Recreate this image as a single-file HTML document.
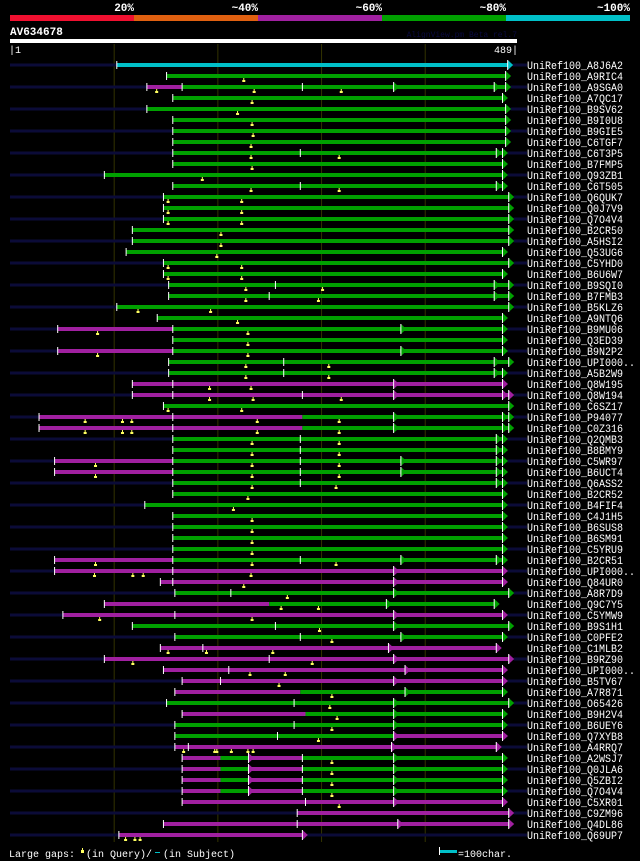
<!DOCTYPE html>
<html><head><meta charset="utf-8"><style>
html,body{margin:0;padding:0;background:#000;width:640px;height:861px;overflow:hidden}
svg{display:block}
text{font-family:"Liberation Mono","DejaVu Sans Mono",monospace}
</style></head><body>
<svg id="chart" width="640" height="861" viewBox="0 0 640 861" xmlns="http://www.w3.org/2000/svg">
<g>
<rect x="10" y="15" width="124" height="6" fill="#f01030"/>
<rect x="134" y="15" width="124" height="6" fill="#e06010"/>
<rect x="258" y="15" width="124" height="6" fill="#a020a0"/>
<rect x="382" y="15" width="124" height="6" fill="#00a000"/>
<rect x="506" y="15" width="124" height="6" fill="#00c0c8"/>
<text x="134" y="11" text-anchor="end" fill="#fff" font-size="11" font-weight="bold">20%</text>
<text x="258" y="11" text-anchor="end" fill="#fff" font-size="11" font-weight="bold">~40%</text>
<text x="382" y="11" text-anchor="end" fill="#fff" font-size="11" font-weight="bold">~60%</text>
<text x="506" y="11" text-anchor="end" fill="#fff" font-size="11" font-weight="bold">~80%</text>
<text x="630" y="11" text-anchor="end" fill="#fff" font-size="11" font-weight="bold">~100%</text>
</g>
<text x="10" y="35" fill="#fff" font-size="11" font-weight="bold">AV634678</text>
<text x="517" y="37" text-anchor="end" fill="#0a0a40" font-size="8">AlignView.pm Beta rel.7</text>
<rect x="10" y="39" width="507" height="4" fill="#fff"/>
<text x="9" y="53" fill="#fff" font-size="10">|1</text>
<text x="518" y="53" text-anchor="end" fill="#fff" font-size="10">489|</text>
<g id="grid"></g>
<g id="rows"></g>
<g>
<text x="9" y="857" fill="#fff" font-size="10">Large gaps:</text>
<rect x="81" y="850" width="3" height="3" fill="#ffff60"/><rect x="82" y="848" width="1" height="3" fill="#ffff60"/>
<text x="86" y="857" fill="#fff" font-size="10">(in Query)/</text>
<rect x="155" y="852" width="5" height="1" fill="#00c0c8"/>
<text x="163" y="857" fill="#fff" font-size="10">(in Subject)</text>
<rect x="439" y="847" width="1" height="8" fill="#fff"/>
<rect x="440" y="850" width="17" height="3" fill="#00c0c8"/>
<text x="458" y="857" fill="#fff" font-size="10">=100char.</text>
</g>
</svg>
<script>
const queryLength = 489;
const gridPositions = [100, 200, 300, 400];
const rowNames = ["A8J6A2","A9RIC4","A9SGA0","A7QC17","B9SV62","B9I0U8","B9GIE5","C6TGF7","C6T3P5","B7FMP5","Q93ZB1","C6T505","Q6QUK7","Q0J7V9","Q7O4V4","B2CR50","A5HSI2","Q53UG6","C5YHD0","B6U6W7","B9SQI0","B7FMB3","B5KLZ6","A9NTQ6","B9MU06","Q3ED39","B9N2P2","UPI000..","A5B2W9","Q8W195","Q8W194","C6SZ17","P94077","C0Z316","Q2QMB3","B8BMY9","C5WR97","B6UCT4","Q6ASS2","B2CR52","B4FIF4","C4J1H5","B6SUS8","B6SM91","C5YRU9","B2CR51","UPI000..","Q84UR0","A8R7D9","Q9C7Y5","C5YMW9","B9S1H1","C0PFE2","C1MLB2","B9RZ90","UPI000..","B5TV67","A7R871","O65426","B9H2V4","B6UEY6","Q7XYB8","A4RRQ7","A2WSJ7","Q0JLA6","Q5ZBI2","Q7O4V4","C5XR01","C9ZM96","Q4DL86","Q69UP7"];
const rowSegments = ["c:103-480","g:151-478","m:132-166,g:166-478","g:157-475","g:132-478","g:157-478","g:157-478","g:157-478","g:157-475","g:157-475","g:91-475","g:157-475","g:148-481","g:148-481","g:148-481","g:118-481","g:118-481","g:112-475","g:148-481","g:148-475","g:153-481","g:153-481","g:103-481","g:142-475","m:46-157,g:157-475","g:157-475","m:46-157,g:157-475","g:153-481","g:153-475","m:118-475","m:118-481","g:148-481","m:28-282,g:282-481","m:28-282,g:282-481","g:157-475","g:157-475","m:43-157,g:157-475","m:43-157,g:157-475","g:157-475","g:157-475","g:130-475","g:157-475","g:157-475","g:157-475","g:157-475","m:43-157,g:157-475","m:43-475","m:145-475","g:159-481","m:91-250,g:250-467","m:51-475","g:118-481","g:159-475","m:145-469","m:91-481","m:148-475","m:166-475","m:159-280,g:280-475","g:151-481","m:166-285,g:285-475","g:159-475","g:159-370,m:370-475","m:159-469","m:166-203,g:203-230,m:230-282,g:282-475","m:166-203,g:203-230,m:230-282,g:282-475","m:166-203,g:203-230,m:230-282,g:282-475","m:166-203,g:203-230,m:230-282,g:282-475","m:166-475","m:277-481","m:148-481","m:105-282"];
const rowArrows = ["","","370,467","","","","","","469","","","469","","","","","","","","","467","467","","","377","","377","467","467","370","370,475","","370,475","370,475","469","469","377,469","377,469","469","","","","","","","377,469","370","370","370","363","370","370","377","365","370","381","370","381","370","370","370","370","368","230,370","230,370","230,370","230,370","370","","374",""];
const rowTicks = ["","","166,282","","","","","","280","","","280","","","","","","","","","256","250","","","157","","157","264","264","157","157,282","","157","157","280","280","157,280","157,280","280","","","","","","","157,280","157","157","213","","159","256","280","186","250","211","203","","274","","274","258","172","282","282","282","282","285","","277",""];
const rowGaps = ["","225","141,235,319","233","219","233","234","232","232,317","233","185","232,317","152,223","152,223","152,223","203","203","199","152,223","152,223","227,301","227,297","123,193","219","84,229","229","84,229","227,307","227,307","192,232","192,234,319","152,223","72,108,117,238,317","72,108,117,238,317","233,317","233,317","82,233,317","82,233,317","233,314","229","215","233","233","233","233","82,233,314","81,118,128,232","225","267","261,297","86,233","298","310","152,189,253","118,291","231,265","259","310","308","315","310","297","167,197,199,213,229,234","310","310","310","310","317","","","111,120,125"];

const COLORS = {g:"#00a000", m:"#a020a0", c:"#00c0c8"};
const xScale = p => 10 + p * (507 / queryLength);
const yScale = i => 65 + i * 11;
const NS = "http://www.w3.org/2000/svg";
function mk(tag, attrs, parent){const e=document.createElementNS(NS,tag);for(const k in attrs)e.setAttribute(k,attrs[k]);parent.appendChild(e);return e;}
const nums = s => s ? s.split(",").map(Number) : [];

const grid = document.getElementById("grid");
gridPositions.forEach(p=>{
  const l = mk("line",{x1:xScale(p)+0.5,x2:xScale(p)+0.5,y1:44,y2:842,stroke:"#333300","stroke-width":1},grid);
  
  
});

const rowsG = document.getElementById("rows");
rowNames.forEach((name,i)=>{
  const y = yScale(i);
  const g = mk("g",{},rowsG);
  
  
  const segs = rowSegments[i].split(",").map(s=>{const [c,r]=s.split(":");const [a,b]=r.split("-").map(Number);return {c,a,b};});
  const start = segs[0].a, end = segs[segs.length-1].b;
  if (i % 2 === 0) {
    mk("rect",{x:10,y:y-1.5,width:xScale(start)-10,height:3,fill:"#0b0b38"},g);
    mk("rect",{x:xScale(end)+5,y:y-1.5,width:527-xScale(end)-5,height:3,fill:"#0b0b38"},g);
  }
  segs.forEach(s=>{
    const r = mk("rect",{x:xScale(s.a),y:y-2,width:xScale(s.b)-xScale(s.a),height:4,fill:COLORS[s.c]},g);
    
    
  });
  const colorAt = p => { for (const s of segs) if (p>=s.a && p<=s.b) return COLORS[s.c]; return COLORS[segs[segs.length-1].c]; };
  const arrows = nums(rowArrows[i]).concat([end]);
  arrows.forEach(p=>{
    const x = xScale(p);
    const c = p===end ? COLORS[segs[segs.length-1].c] : colorAt(p+1);
    const t = mk("polygon",{points:`${x},${y-5} ${x+5.5},${y} ${x},${y+5}`,fill:c},g);
    
    
    mk("rect",{x:x-0.5,y:y-5,width:1,height:10,fill:"#fff"},g);
  });
  [start].concat(nums(rowTicks[i])).forEach(p=>{
    const tk = mk("rect",{x:xScale(p)-0.5,y:y-4,width:1,height:8,fill:"#fff"},g);
    
    
  });
  nums(rowGaps[i]).forEach(p=>{
    const x = xScale(p);
    const m = mk("rect",{x:x-1,y:y+4,width:3,height:2,fill:"#ffff60"},g);
    
    
    mk("rect",{x:x,y:y+2,width:1,height:2,fill:"#ffff60"},g);
  });
  const label = "UniRef100_" + name;
  const tx = mk("text",{x:527,y:y+4,fill:"#fff","font-size":11,textLength:label.length*6,lengthAdjust:"spacingAndGlyphs"},g);
  tx.textContent = label;
  
  
});
</script>
</body></html>
